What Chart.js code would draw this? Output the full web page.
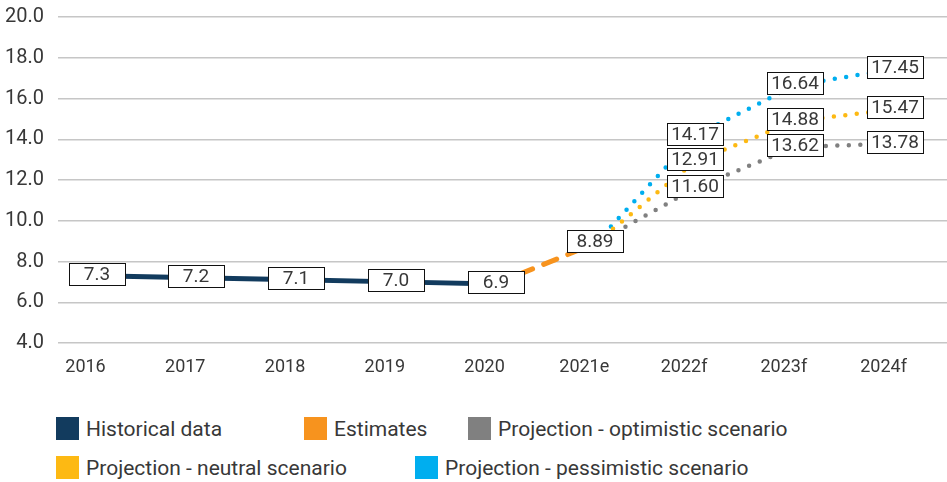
<!DOCTYPE html>
<html>
<head>
<meta charset="utf-8">
<script src="https://cdn.jsdelivr.net/npm/chart.js@4.4.1/dist/chart.umd.min.js"></script>
<style>
  body { margin: 0; background: #fff; }
  #caja { position: relative; width: 947px; height: 482px; font-family: Roboto, sans-serif; }
  #grafica { position: absolute; left: 0; top: 0; width: 947px; height: 400px; }
  .item { position: absolute; display: flex; align-items: center; height: 23px;
          font-size: 21px; font-weight: 400; color: #383838; white-space: nowrap; }
  .item .cuadro { width: 23px; height: 23px; margin-right: 7px; }
  .item:nth-child(1) { left: 56px; top: 417px; }
  .item:nth-child(2) { left: 304px; top: 417px; }
  .item:nth-child(3) { left: 468px; top: 417px; }
  .item:nth-child(4) { left: 56px; top: 456px; }
  .item:nth-child(5) { left: 415px; top: 456px; }
</style>
</head>
<body>
<div id="caja">
  <div id="grafica"><canvas id="myChart"></canvas></div>
  <div class="leyenda"></div>
</div>
<script>
const anios = ['2016', '2017', '2018', '2019', '2020', '2021e', '2022f', '2023f', '2024f'];
const historico = [7.3, 7.2, 7.1, 7.0, 6.9];
const estimado = [6.9, 8.89];
const optimista = [8.89, 11.60, 13.62, 13.78];
const neutral = [8.89, 12.91, 14.88, 15.47];
const pesimista = [8.89, 14.17, 16.64, 17.45];

// pasa una serie a puntos {x, y} empezando en la categoria "desde"
function puntos(valores, desde) {
  return valores.map((v, k) => ({ x: desde + k, y: v }));
}

// cajitas blancas con el valor encima de cada punto
const etiquetas = {
  id: 'etiquetas',
  afterDatasetsDraw(chart) {
    const ctx = chart.ctx;
    chart.data.datasets.forEach((ds, i) => {
      const meta = chart.getDatasetMeta(i);
      meta.data.forEach((pt, j) => {
        if (j < ds.labelFrom) return;
        const x = Math.round(pt.x);
        const y = Math.round(pt.y) - 2;
        ctx.save();
        ctx.fillStyle = '#fff';
        ctx.fillRect(x - 28, y - 11, 56, 22);
        ctx.strokeStyle = '#111';
        ctx.lineWidth = 1;
        ctx.strokeRect(x - 28 + 0.5, y - 11 + 0.5, 56, 22);
        ctx.fillStyle = '#383838';
        ctx.font = '400 19px Roboto';
        ctx.textAlign = 'center';
        ctx.textBaseline = 'middle';
        ctx.fillText(ds.data[j].y.toFixed(ds.decimals), x, y + 1);
        ctx.restore();
      });
    });
  }
};

const data = {
  datasets: [
    {
      label: 'Projection - optimistic scenario',
      data: puntos(optimista, 5),
      borderColor: '#808080',
      backgroundColor: '#808080',
      borderWidth: 4.5,
      borderDash: [0, 11.5],
      borderCapStyle: 'round',
      labelFrom: 1,
      decimals: 2,
      orden: 2
    },
    {
      label: 'Projection - neutral scenario',
      data: puntos(neutral, 5),
      borderColor: '#fdb913',
      backgroundColor: '#fdb913',
      borderWidth: 4.5,
      borderDash: [0, 11.5],
      borderCapStyle: 'round',
      labelFrom: 1,
      decimals: 2,
      orden: 3
    },
    {
      label: 'Projection - pessimistic scenario',
      data: puntos(pesimista, 5),
      borderColor: '#00aeef',
      backgroundColor: '#00aeef',
      borderWidth: 4.5,
      borderDash: [0, 11.5],
      borderCapStyle: 'round',
      labelFrom: 1,
      decimals: 2,
      orden: 4
    },
    {
      label: 'Estimates',
      data: puntos(estimado, 4),
      borderColor: '#f7931e',
      backgroundColor: '#f7931e',
      borderWidth: 5,
      borderDash: [14, 12],
      borderCapStyle: 'round',
      labelFrom: 1,
      decimals: 2,
      orden: 1
    },
    {
      label: 'Historical data',
      data: puntos(historico, 0),
      borderColor: '#123b5e',
      backgroundColor: '#123b5e',
      borderWidth: 5,
      labelFrom: 0,
      decimals: 1,
      orden: 0
    }
  ]
};

const config = {
  type: 'line',
  data,
  plugins: [etiquetas],
  options: {
    responsive: true,
    maintainAspectRatio: false,
    animation: false,
    elements: { point: { radius: 0, hoverRadius: 0 } },
    layout: { padding: { top: 17, right: 0, left: 0, bottom: 0 } },
    plugins: { legend: { display: false }, tooltip: { enabled: false } },
    scales: {
      x: {
        type: 'linear',
        min: -0.386,
        max: 8.526,
        grid: { display: false },
        border: { display: false },
        afterBuildTicks: (scale) => {
          scale.ticks = anios.map((a, i) => ({ value: i }));
        },
        afterFit: (scale) => {
          scale.height = 57;
          scale.paddingLeft = 0;
          scale.paddingRight = 0;
        },
        ticks: {
          autoSkip: false,
          maxRotation: 0,
          padding: 6,
          labelOffset: -11,
          color: '#383838',
          font: { family: 'Roboto', size: 18, weight: 400 },
          callback: (v) => anios[v]
        }
      },
      y: {
        min: 4,
        max: 20,
        grid: { color: '#c6c6c6', lineWidth: 1.5, drawTicks: false },
        border: { display: false },
        afterFit: (scale) => {
          scale.width = 58;
          scale.paddingTop = 0;
          scale.paddingBottom = 0;
        },
        ticks: {
          stepSize: 2,
          padding: 14,
          color: '#383838',
          font: { family: 'Roboto', size: 20, weight: 400 },
          callback: (v) => v.toFixed(1)
        }
      }
    }
  }
};

var myChart = new Chart(document.getElementById('myChart'), config);

// leyenda a mano, en el orden del original
function dibujaLeyenda() {
  const orden = data.datasets.slice().sort((a, b) => a.orden - b.orden);
  let textInner = '';
  orden.forEach((ds) => {
    textInner += '<div class="item"><span class="cuadro" style="background:' + ds.borderColor + '"></span>';
    textInner += ds.label + '</div>';
  });
  document.querySelector('.leyenda').innerHTML = textInner;
}
dibujaLeyenda();
</script>
</body>
</html>
